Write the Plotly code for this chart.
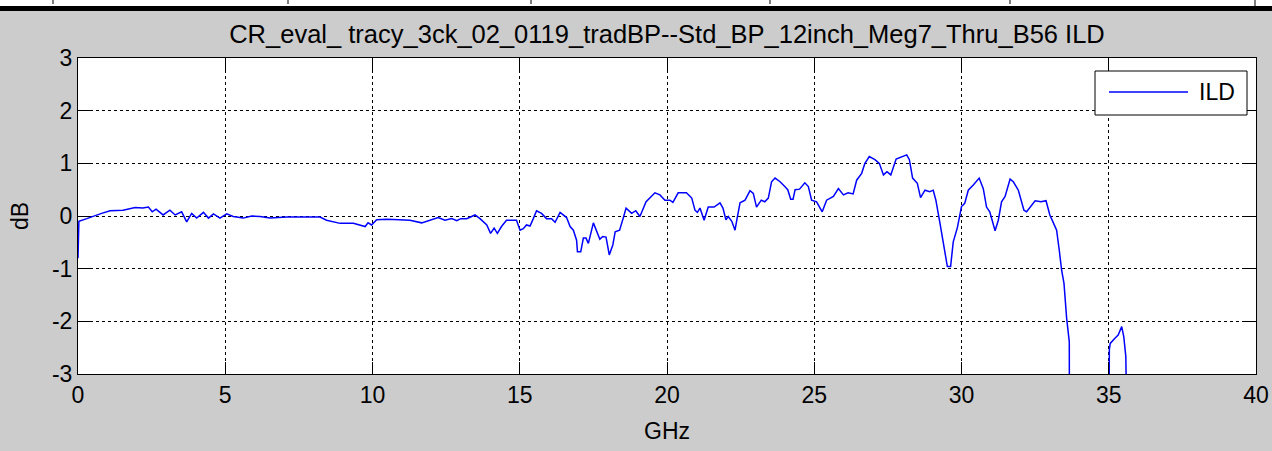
import plotly.graph_objects as go

# ---- data ----
freq_ghz = [0.0, 0.03, 0.3, 0.52, 0.8, 1.09, 1.53, 1.94, 2.2, 2.39, 2.52, 2.65, 2.89, 3.12, 3.3, 3.52,
            3.69, 3.86, 4.03, 4.26, 4.43, 4.6, 4.82, 5.05, 5.27, 5.61, 5.9, 6.18, 6.52, 7.09, 7.6, 8.22,
            8.44, 8.9, 9.35, 9.58, 9.75, 9.85, 9.97, 10.14, 10.5, 10.9, 11.27, 11.67, 11.95, 12.23,
            12.46, 12.69, 12.86, 13.0, 13.2, 13.48, 13.65, 13.88, 14.01, 14.13, 14.24, 14.38, 14.55,
            14.89, 15.01, 15.12, 15.23, 15.35, 15.46, 15.57, 15.74, 15.91, 16.08, 16.2, 16.37, 16.59,
            16.71, 16.82, 16.93, 16.96, 17.07, 17.16, 17.25, 17.33, 17.5, 17.61, 17.72, 17.82, 17.93,
            18.04, 18.16, 18.24, 18.39, 18.52, 18.61, 18.8, 18.94, 19.08, 19.29, 19.59, 19.76, 19.93,
            20.1, 20.2, 20.38, 20.66, 20.84, 20.95, 21.03, 21.12, 21.26, 21.4, 21.6, 21.8, 21.9, 22.0,
            22.08, 22.2, 22.31, 22.37, 22.48, 22.65, 22.82, 22.93, 23.04, 23.2, 23.32, 23.44, 23.55,
            23.67, 23.84, 24.0, 24.1, 24.2, 24.28, 24.35, 24.5, 24.68, 24.8, 24.91, 25.08, 25.27,
            25.42, 25.65, 25.82, 25.99, 26.15, 26.32, 26.44, 26.61, 26.72, 26.87, 27.06, 27.21, 27.35,
            27.47, 27.6, 27.78, 27.97, 28.14, 28.23, 28.34, 28.5, 28.61, 28.76, 28.92, 29.04, 29.13,
            29.27, 29.38, 29.52, 29.63, 29.72, 29.86, 30.0, 30.11, 30.23, 30.4, 30.6, 30.74, 30.85,
            30.96, 31.14, 31.25, 31.36, 31.48, 31.65, 31.76, 31.93, 32.12, 32.21, 32.5, 32.7, 32.87,
            33.0, 33.12, 33.23, 33.32, 33.4, 33.48, 33.57, 33.66, 33.67, 34.3, 35.0, 35.02, 35.05,
            35.21, 35.32, 35.44, 35.51, 35.58, 35.66, 36.5]
ild_db = [-0.8, -0.1, -0.05, 0.0, 0.05, 0.1, 0.11, 0.16, 0.15, 0.17, 0.08, 0.13, 0.02, 0.11, 0.02, 0.08,
          -0.11, 0.05, -0.04, 0.07, -0.04, 0.04, -0.04, 0.04, -0.01, -0.04, 0.0, -0.01, -0.04, -0.02, -0.02, -0.02,
          -0.08, -0.14, -0.14, -0.17, -0.2, -0.13, -0.17, -0.07, -0.06, -0.07, -0.08, -0.13, -0.08, -0.03,
          -0.08, -0.05, -0.09, -0.05, -0.05, 0.02, -0.05, -0.17, -0.33, -0.23, -0.33, -0.2, -0.08,
          -0.08, -0.27, -0.24, -0.17, -0.19, -0.05, 0.1, 0.05, -0.05, -0.05, -0.12, 0.07, -0.03,
          -0.2, -0.27, -0.46, -0.68, -0.68, -0.42, -0.42, -0.52, -0.13, -0.27, -0.44, -0.39, -0.4,
          -0.74, -0.55, -0.3, -0.27, -0.03, 0.15, 0.05, 0.1, -0.01, 0.27, 0.44, 0.4, 0.3,
          0.3, 0.26, 0.44, 0.44, 0.34, 0.11, 0.07, 0.15, -0.08, 0.17, 0.17, 0.25, 0.15, -0.07,
          -0.01, -0.1, -0.27, -0.08, 0.25, 0.3, 0.48, 0.43, 0.17, 0.3, 0.27, 0.34, 0.65,
          0.72, 0.65, 0.56, 0.5, 0.32, 0.32, 0.5, 0.51, 0.63, 0.56, 0.3, 0.27, 0.08,
          0.3, 0.37, 0.52, 0.4, 0.44, 0.42, 0.68, 0.81, 1.0, 1.13, 1.07, 1.0, 0.78,
          0.84, 0.78, 1.08, 1.13, 1.16, 1.07, 0.72, 0.62, 0.35, 0.49, 0.46, 0.49, 0.3,
          -0.14, -0.52, -0.96, -0.96, -0.49, -0.22, 0.18, 0.24, 0.49, 0.59, 0.72, 0.52, 0.17,
          0.08, -0.28, -0.08, 0.27, 0.37, 0.7, 0.65, 0.49, 0.11, 0.08, 0.29, 0.27, 0.29,
          0.02, -0.13, -0.27, -0.65, -1.03, -1.28, -1.94, -2.39, -6.0, -9.0, -6.0, -2.54, -2.42,
          -2.32, -2.26, -2.1, -2.29, -2.67, -6.0, -10.0]

series_name = "ILD"
title_text = "CR_eval_ tracy_3ck_02_0119_tradBP--Std_BP_12inch_Meg7_Thru_B56 ILD"
x_ticks = [0, 5, 10, 15, 20, 25, 30, 35, 40]
y_ticks = [-3, -2, -1, 0, 1, 2, 3]

FONT = "Liberation Sans, Arial, sans-serif"
W, H = 1272, 451
L, R, T, B = 78, 16, 58, 77
PW, PH = W - L - R, H - T - B


def px(x):
    return (x - L) / PW


def py(y):
    return (H - B - y) / PH


fig = go.Figure()
fig.add_trace(go.Scatter(x=freq_ghz, y=ild_db, mode="lines", name=series_name,
                         line=dict(color="#0000ff", width=1.5), showlegend=False))

axis_common = dict(showline=True, linecolor="black", linewidth=1, mirror="allticks",
                   ticks="inside", ticklen=12, tickcolor="black", tickwidth=1,
                   showgrid=True, gridcolor="black", gridwidth=1, griddash="3px,3px",
                   zeroline=False, automargin=False,
                   tickfont=dict(family=FONT, size=23, color="black"))

fig.update_xaxes(range=[0, 40], tickvals=x_ticks, ticktext=[str(v) for v in x_ticks],
                 title=dict(text="GHz", font=dict(family=FONT, size=23, color="black"), standoff=16),
                 **axis_common)
fig.update_yaxes(range=[-3, 3], tickvals=y_ticks, ticktext=[str(v) for v in y_ticks],
                 title=dict(text="dB", font=dict(family=FONT, size=23, color="black"), standoff=16),
                 **axis_common)

shapes = []
# strip of the figure above (cropped at the top edge)
shapes.append(dict(type="rect", xref="paper", yref="paper", x0=px(0), x1=px(W), y0=py(6), y1=py(0),
                   fillcolor="white", line=dict(width=0), layer="above"))
shapes.append(dict(type="rect", xref="paper", yref="paper", x0=px(0), x1=px(W), y0=py(11), y1=py(6),
                   fillcolor="black", line=dict(width=0), layer="above"))
for tx in [53, 288, 531, 770, 1010]:
    shapes.append(dict(type="line", xref="paper", yref="paper", x0=px(tx), x1=px(tx), y0=py(0), y1=py(4),
                       line=dict(color="black", width=1)))
shapes.append(dict(type="line", xref="paper", yref="paper", x0=px(1255), x1=px(1255), y0=py(0), y1=py(6),
                   line=dict(color="black", width=1)))

# legend box
shapes.append(dict(type="rect", xref="paper", yref="paper", x0=px(1095), x1=px(1247), y0=py(115), y1=py(71),
                   fillcolor="white", line=dict(color="black", width=1), layer="above"))
shapes.append(dict(type="line", xref="paper", yref="paper", x0=px(1109), x1=px(1188), y0=py(92), y1=py(92),
                   line=dict(color="#0000ff", width=1.5), layer="above"))

fig.update_layout(
    width=W, height=H,
    margin=dict(l=L, r=R, t=T, b=B, pad=0, autoexpand=False),
    paper_bgcolor="#cccccc", plot_bgcolor="white",
    title=dict(text=title_text, x=667 / W, xanchor="center", y=1 - 34 / H, yanchor="middle",
               font=dict(family=FONT, size=25.5, color="black")),
    shapes=shapes,
    annotations=[dict(text=series_name, xref="paper", yref="paper", x=px(1197), y=py(92),
                      xanchor="left", yanchor="middle", showarrow=False,
                      font=dict(family=FONT, size=23, color="black"))],
    showlegend=False,
)

fig.write_html("out.html", config={"displayModeBar": False},
               post_script="document.body.style.margin='0px';document.body.style.overflow='hidden';")
